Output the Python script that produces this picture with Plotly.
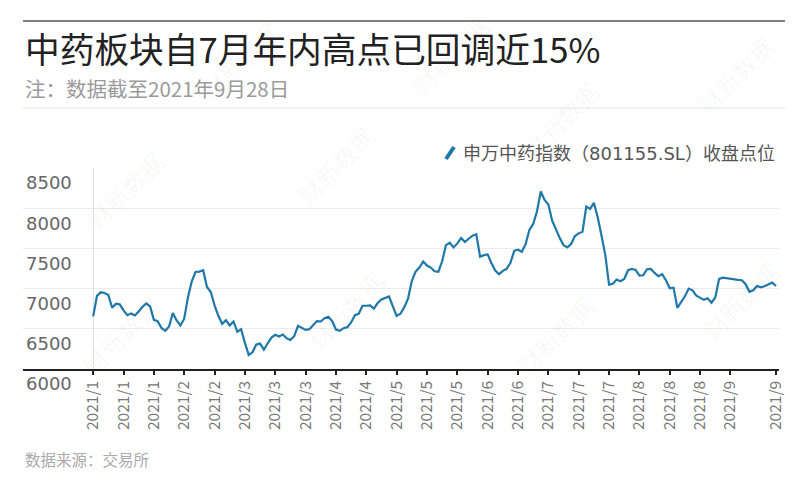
import plotly.graph_objects as go

# 申万中药指数（801155.SL）每日收盘点位（2021/1/4 – 2021/9/28，按交易日顺序）
close_points = [
    6654, 6910, 6954, 6945, 6920, 6762, 6812, 6804, 6729, 6670,
    6691, 6666, 6716, 6775, 6816, 6779, 6612, 6595, 6510, 6475,
    6529, 6695, 6604, 6541, 6625, 6895, 7091, 7208, 7212, 7229,
    7020, 6958, 6791, 6662, 6562, 6608, 6541, 6591, 6462, 6495,
    6325, 6175, 6208, 6304, 6316, 6240, 6320, 6391, 6425, 6404,
    6429, 6383, 6362, 6408, 6537, 6508, 6487, 6495, 6545, 6596,
    6591, 6633, 6650, 6596, 6491, 6475, 6508, 6520, 6579, 6670,
    6687, 6787, 6787, 6791, 6750, 6820, 6866, 6883, 6903, 6779,
    6660, 6687, 6766, 6875, 7095, 7212, 7262, 7337, 7287, 7262,
    7215, 7210, 7340, 7541, 7570, 7512, 7562, 7629, 7579, 7620,
    7658, 7675, 7396, 7416, 7425, 7316, 7225, 7179, 7221, 7246,
    7320, 7470, 7483, 7458, 7554, 7729, 7804, 7962, 8208, 8104,
    8045, 7845, 7729, 7629, 7541, 7512, 7554, 7654, 7687, 7708,
    8020, 7991, 8066, 7890, 7660, 7420, 7050, 7060, 7112, 7091,
    7120, 7229, 7245, 7233, 7162, 7166, 7241, 7245, 7195, 7154,
    7179, 7104, 7004, 7012, 6760, 6830, 6904, 7000, 6979, 6912,
    6891, 6860, 6880, 6825, 6890, 7120, 7137, 7129, 7116, 7108,
    7108, 7104, 7054, 6960, 6979, 7033, 7016, 7029, 7050, 7075,
    7033,
]
day_index = list(range(len(close_points)))

tick_labels = [
    "2021/1", "2021/1", "2021/1", "2021/2", "2021/2", "2021/3", "2021/3",
    "2021/3", "2021/4", "2021/4", "2021/5", "2021/5", "2021/5", "2021/6",
    "2021/6", "2021/7", "2021/7", "2021/7", "2021/8", "2021/8", "2021/8",
    "2021/9", "2021/9",
]
tick_days = list(range(0, 169, 8)) + [len(close_points) - 1]
y_ticks = [6000, 6500, 7000, 7500, 8000, 8500]

title_text = "中药板块自7月年内高点已回调近15%"
subtitle_text = "注：数据截至2021年9月28日"
series_name = "申万中药指数（801155.SL）收盘点位"
source_text = "数据来源：交易所"
watermark_text = "财新数据"

# the page body adds an 8px margin, so the figure is drawn 8px lower/right
OFF = 8
W, H = 800 - OFF, 500 - OFF
L, R, T, B = 23 - OFF, 779 - OFF, 168 - OFF, 369 - OFF
LINE_COLOR = "#1f78a8"
CJK = "Noto Sans CJK SC"


def px(x):
    return (x - OFF - L) / (R - L)


def py(y):
    return (B - (y - OFF)) / (B - T)


fig = go.Figure()
fig.add_trace(go.Scatter(
    x=day_index, y=close_points, mode="lines", name=series_name,
    line=dict(color=LINE_COLOR, width=2.2), hoverinfo="skip", showlegend=False,
))

annotations = []
# faint diagonal watermarks
for wx, wy in [(125, 190), (335, 165), (560, 120), (735, 75), (120, 335),
               (345, 310), (555, 335), (740, 300), (240, 60), (450, 55)]:
    annotations.append(dict(
        text=watermark_text, x=px(wx), y=py(wy), xanchor="center", yanchor="middle",
        textangle=-45, font=dict(family=CJK, size=24, color="rgba(0,0,0,0.035)")))

annotations += [
    dict(text=title_text, x=px(23), y=py(48), xanchor="left", yanchor="middle",
         font=dict(family=CJK, size=34.7, color="#222222")),
    dict(text=subtitle_text, x=px(23), y=py(88), xanchor="left", yanchor="middle",
         font=dict(family=CJK, size=20.5, color="#9a9a9a")),
    dict(text=series_name, x=px(777), y=py(153), xanchor="right", yanchor="middle",
         font=dict(family="DejaVu Sans, " + CJK, size=18, color="#555555")),
    dict(text=source_text, x=px(23), y=py(459), xanchor="left", yanchor="middle",
         font=dict(family=CJK, size=15.5, color="#aaaaaa")),
]
for a in annotations:
    a.update(xref="paper", yref="paper", showarrow=False)

shapes = [
    dict(type="line", xref="paper", yref="paper", x0=px(23), x1=px(785),
         y0=py(21), y1=py(21), line=dict(color="#555555", width=1.5)),
    dict(type="line", xref="paper", yref="paper", x0=px(23), x1=px(785),
         y0=py(108), y1=py(108), line=dict(color="#e4e4e4", width=1)),
    dict(type="line", xref="paper", yref="paper", x0=px(446), x1=px(454),
         y0=py(159), y1=py(147), line=dict(color=LINE_COLOR, width=4)),
]

fig.update_layout(
    width=W, height=H,
    margin=dict(l=L, r=W - R, t=T, b=H - B, pad=0),
    paper_bgcolor="white", plot_bgcolor="white",
    annotations=annotations, shapes=shapes,
    xaxis=dict(
        range=[-18.5, 180.8], tickmode="array", tickvals=tick_days, ticktext=tick_labels,
        tickangle=-90, ticks="outside", ticklen=4, tickwidth=2, tickcolor="#222222",
        showline=True, linecolor="#222222", linewidth=1.5, showgrid=False,
        zeroline=True, zerolinecolor="#e3e3e3", zerolinewidth=1,
        tickfont=dict(family=CJK, size=15.5, color="#777777"),
    ),
    yaxis=dict(
        range=[6000, 8500], tickmode="array", tickvals=y_ticks,
        showgrid=True, gridcolor="#ebebeb", gridwidth=1, zeroline=False, showline=False,
        ticks="", ticklabelposition="inside", ticklabelshift=15,
        ticklabeloverflow="allow",
        tickfont=dict(family="DejaVu Sans", size=18, color="#666666"),
    ),
)

fig.write_html("out.html")
